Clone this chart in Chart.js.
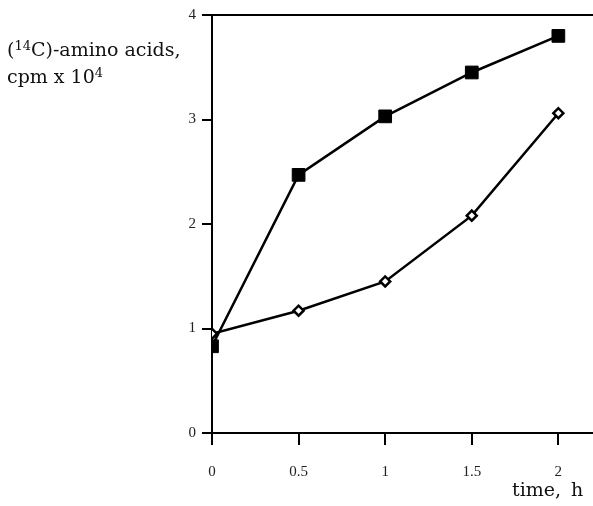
<!DOCTYPE html>
<html>
<head>
<meta charset="utf-8">
<script src="https://cdn.jsdelivr.net/npm/chart.js@4"></script>
<style>
  body { margin: 0; background: #fff; }
  #wrap { position: relative; width: 593px; height: 506px; }
  .lbl { position: absolute; font-family: 'DejaVu Serif', serif; font-size: 19px; line-height: 19px; color: #111; white-space: nowrap; }
  .lbl sup { font-size: 13px; vertical-align: 6px; line-height: 0; }
</style>
</head>
<body>
<div id="wrap">
  <canvas id="chart" width="593" height="506"></canvas>
  <div class="lbl" style="left:7px; top:40px;">(<sup>14</sup>C)-amino acids,</div>
  <div class="lbl" style="left:7px; top:67px;">cpm x 10<sup>4</sup></div>
  <div class="lbl" style="left:512px; top:480px; word-spacing:4px;">time, h</div>
</div>
<script>
// data
const times = [0, 0.5, 1, 1.5, 2];
const filledSquares = [0.83, 2.47, 3.03, 3.45, 3.80];
const openDiamonds = [0.95, 1.17, 1.45, 2.08, 3.06];
const xTicks = [0, 0.5, 1, 1.5, 2];
const yTicks = [0, 1, 2, 3, 4];

const tickFont = { family: 'Liberation Serif', size: 15 };

const ctx = document.getElementById('chart').getContext('2d');
const chart = new Chart(ctx, {
  type: 'line',
  data: {
    datasets: [{
      label: 'filled',
      data: times.map((t, i) => ({ x: t, y: filledSquares[i] })),
      borderColor: '#000',
      borderWidth: 2.5,
      pointStyle: 'rect',
      pointRadius: 9,
      pointBackgroundColor: '#000',
      pointBorderColor: '#000',
      pointBorderWidth: 1
    }, {
      label: 'open',
      data: times.map((t, i) => ({ x: t, y: openDiamonds[i] })),
      borderColor: '#000',
      borderWidth: 2.5,
      pointStyle: 'rectRot',
      pointRadius: 5,
      pointBackgroundColor: '#fff',
      pointBorderColor: '#000',
      pointBorderWidth: 2.5
    }]
  },
  options: {
    responsive: false,
    animation: false,
    layout: { autoPadding: false, padding: { top: 15, right: 0, left: 0, bottom: 0 } },
    plugins: { legend: { display: false }, tooltip: { enabled: false } },
    scales: {
      x: {
        type: 'linear',
        min: 0,
        max: 2.2,
        afterBuildTicks: scale => { scale.ticks = xTicks.map(v => ({ value: v })); },
        afterFit: scale => { scale.height = 73; },
        border: { color: '#000', width: 2 },
        grid: { drawOnChartArea: false, tickColor: '#000', tickLength: 12, lineWidth: 2 },
        ticks: { color: '#222', font: tickFont, padding: 18, callback: v => String(v) }
      },
      y: {
        min: 0,
        max: 4,
        afterBuildTicks: scale => { scale.ticks = yTicks.map(v => ({ value: v })); },
        afterFit: scale => { scale.width = 212; },
        border: { color: '#000', width: 2 },
        grid: {
          color: c => (c.tick && c.tick.value === 4 ? '#000' : 'rgba(0,0,0,0)'),
          tickColor: '#000',
          tickLength: 10,
          lineWidth: 2
        },
        ticks: { color: '#222', font: tickFont, padding: 6, callback: v => String(v) }
      }
    }
  }
});
</script>
</body>
</html>
